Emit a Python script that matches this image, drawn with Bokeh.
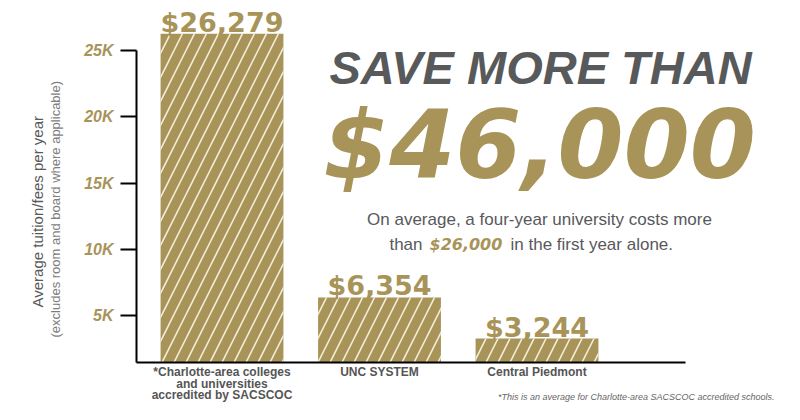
from bokeh.plotting import figure
from bokeh.models import (LinearAxis, FixedTicker, LabelSet, Title,
                          ColumnDataSource, Range1d)
from bokeh.core.properties import value
from bokeh.embed import file_html
from bokeh.resources import INLINE

# ---------------- data ----------------
categories = ["*Charlotte-area colleges\nand universities\naccredited by SACSCOC",
              "UNC SYSTEM", "Central Piedmont"]
costs = [26279, 6354, 3244]
cost_labels = ["$26,279", "$6,354", "$3,244"]
tick_values = [5000, 10000, 15000, 20000, 25000]
tick_labels = ["5K", "10K", "15K", "20K", "25K"]
y_title = "Average tuition/fees per year"
y_subtitle = "(excludes room and board where applicable)"
headline = "SAVE MORE THAN"
savings = "$46,000"
sub_line1 = "On average, a four-year university costs more"
sub_line2_a = "than"
sub_line2_b = "$26,000"
sub_line2_c = "in the first year alone."
footnote = "*This is an average for Charlotte-area SACSCOC accredited schools."

# ---------------- style ----------------
GOLD = "#a89459"
DARK = "#58595b"
LIGHT = "#7d7d7d"
HATCH = "#f6f1de"

# layout helpers: canvas pixel -> data coordinate
X0, XS = 221.5, 157.5          # px of first category, px per category
Y0, YS = 380.0, 13.2 / 1000.0  # px of zero, px per unit
FRAME_BOTTOM = 361             # px where the baseline ends up
def dx(px):
    return (px - X0) / XS
def dy(py):
    return (Y0 - py) / YS

idx = list(range(len(categories)))
source = ColumnDataSource(dict(x=idx, top=costs, label=cost_labels))

p = figure(width=784, height=404,
           x_range=Range1d(dx(136), dx(784)),
           y_range=Range1d(dy(FRAME_BOTTOM), dy(0)),
           output_backend="svg", toolbar_location=None,
           min_border_left=136, min_border_right=0,
           min_border_top=0, min_border_bottom=38)
p.outline_line_color = None
p.grid.visible = False
p.background_fill_color = "white"
p.border_fill_color = "white"

p.vbar(x="x", top="top", bottom=0, width=0.78, source=source,
       fill_color=GOLD, line_color=None,
       hatch_pattern="/", hatch_color=HATCH, hatch_weight=1.5,
       hatch_scale=24)

p.add_layout(LabelSet(x="x", y="top", text="label", source=source,
                      text_font=value("DejaVu Sans"), text_font_style="bold",
                      text_font_size="27px", text_color=GOLD,
                      text_align="center", text_baseline="alphabetic",
                      y_offset=2))

# ---------------- y axis ----------------
ya = p.yaxis[0]
ya.ticker = FixedTicker(ticks=tick_values)
ya.major_label_overrides = {v: t for v, t in zip(tick_values, tick_labels)}
ya.bounds = (dy(FRAME_BOTTOM), tick_values[-1])
ya.axis_line_width = 2
ya.axis_line_color = "black"
ya.major_tick_line_width = 2
ya.major_tick_line_color = "black"
ya.major_tick_out = 16
ya.major_tick_in = 0
ya.minor_tick_line_color = None
ya.minor_tick_out = 0
ya.major_label_standoff = 7
ya.major_label_text_font = "Liberation Sans"
ya.major_label_text_font_style = "bold italic"
ya.major_label_text_font_size = "16px"
ya.major_label_text_color = GOLD
# blank spacer label between tick labels and the titles
ya.axis_label = " "
ya.axis_label_text_font_size = "1px"
ya.axis_label_standoff = 12

p.add_layout(Title(text=y_subtitle, align="left", offset=25,
                   vertical_align="top", standoff=2,
                   text_font="Liberation Sans", text_font_style="normal",
                   text_font_size="13px", text_color=LIGHT), "left")
p.add_layout(Title(text=y_title, align="left", offset=55,
                   vertical_align="bottom", standoff=2,
                   text_font="Liberation Sans", text_font_style="normal",
                   text_font_size="15px", text_color=DARK), "left")

# ---------------- x axis (baseline + category label lines) ----------------
lines = [c.split("\n") for c in categories]
nlines = max(len(l) for l in lines)

xa = p.xaxis[0]
xa.bounds = (dx(136), dx(685))
xa.axis_line_width = 2
xa.axis_line_color = "black"

standoffs = [2, -5, -6]
label_axes = [xa]
for k in range(1, nlines):
    ax = LinearAxis(axis_line_color=None)
    p.add_layout(ax, "below")
    label_axes.append(ax)
for k, ax in enumerate(label_axes):
    ticks_k = [i for i in idx if len(lines[i]) > k]
    ax.ticker = FixedTicker(ticks=ticks_k)
    ax.major_label_overrides = {i: lines[i][k] for i in ticks_k}
    ax.major_tick_line_color = None
    ax.minor_tick_line_color = None
    ax.major_tick_out = 0
    ax.major_tick_in = 0
    ax.minor_tick_out = 0
    ax.major_label_standoff = standoffs[k]
    ax.major_label_text_font = "Liberation Sans"
    ax.major_label_text_font_style = "bold"
    ax.major_label_text_font_size = "12px"
    ax.major_label_text_color = "#555555"

foot_x = round(dx(636), 2)
fa = LinearAxis(axis_line_color=None, ticker=FixedTicker(ticks=[foot_x]),
                major_label_overrides={foot_x: footnote},
                major_tick_line_color=None, minor_tick_line_color=None,
                major_tick_out=0, major_tick_in=0, minor_tick_out=0,
                major_label_standoff=-13,
                major_label_text_font="Liberation Sans",
                major_label_text_font_style="italic",
                major_label_text_font_size="9px",
                major_label_text_color="#666666")
p.add_layout(fa, "below")

# ---------------- right-hand texts ----------------
def put(text, px, py, size, font="Liberation Sans", style="normal",
        color=DARK, align="center"):
    src = ColumnDataSource(dict(x=[dx(px)], y=[dy(py)], t=[text]))
    p.add_layout(LabelSet(x="x", y="y", text="t", source=src,
                          text_font=value(font), text_font_style=style,
                          text_font_size=size, text_color=color,
                          text_align=align, text_baseline="alphabetic"))

put(headline, 540, 83, "47px", style="bold italic")
put(savings, 539, 177, "95px", font="DejaVu Sans", style="bold italic",
    color=GOLD)
put(sub_line1, 539, 224, "17px")
put(sub_line2_a, 422, 249, "17px", align="right")
put(sub_line2_b, 429, 249, "16px", font="DejaVu Sans", style="bold italic",
    color=GOLD, align="left")
put(sub_line2_c, 510, 249, "17px", align="left")

open("out.html", "w").write(file_html(p, INLINE))
